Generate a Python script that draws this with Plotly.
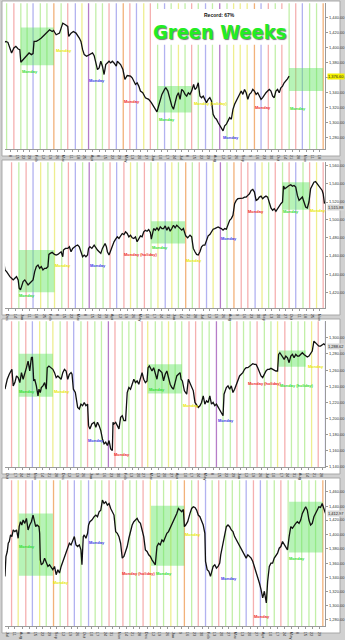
import plotly.graph_objects as go

W, H = 345, 640

# ---------------- data (time index, price in chart units) ----------------
P1_T = [10,18,24,28,35,42,48,55,60,63, 70,80,88,95,100,103,110,118,125,135,
        145,150,158,162,170,180,185,190,198,205, 208,215,222,230,240,245,250,255,262,270,
        280,285,290,295,300,305,310,315,320,325, 330,335,340,345,352,355,360,365,372,378,
        385,395,400,405,410,415,420,425,432,440, 450,458,465,470,475,480,485,490,498,502,
        508,512,515,520,525,530,535,540,545,550, 555,560,565,570,575,580,583,586,590,595,
        600,605,610,615,620,625,630,635,640,645, 650,655,660,665,670,675,680,685,690,695,
        700,705,710,715,720,725,730,735,740,745, 750,755,760,765,770,775,780,785,790,795,
        800,805,810,815,820,825,830,835,840,845, 850,855,860,865,870,875]
P1_PRICE = [320,325,322,310,290,305,310,302,300,262, 270,280,290,285,288,325,325,330,335,345,
            355,360,355,358,345,350,365,380,375,370, 340,350,355,350,335,325,300,285,280,285,
            290,282,255,240,245,265,250,225,255,260, 265,260,265,260,250,265,260,255,240,210,
            222,220,215,205,195,200,190,175,170,155, 150,140,130,120,112,130,150,165,180,185,
            175,160,145,130,120,140,160,170,150,180, 175,165,160,170,165,175,190,195,180,185,
            200,160,155,160,150,140,150,155,145,105, 95,90,80,70,65,55,70,75,85,95,
            90,120,135,145,150,160,175,165,180,170, 150,165,170,180,175,165,170,160,150,155,
            165,170,175,180,175,160,155,175,180,170, 185,190,200,205,212,220]

P2_T = [12,15,20,25,30,35,40,45,50,55, 58,62,66,70,75,80,85,90,95,100,
        105,110,115,120,125,130,135,140,145,148, 152,158,165,170,175,180,185,190,192,198,
        205,210,215,220,225,230,235,240,245,250, 255,260,265,268,272,278,285,290,295,300,
        305,310,312,318,322,325,330,335,340,345, 350,355,360,365,370,375,380,385,390,395,
        400,405,410,415,420,425,430,435,440,445, 450,455,458,462,465,470,475,480,485,490,
        495,500,505,510,515,520,525,530,535,540, 545,550,555,558,562,568,575,580,585,590,
        595,600,605,610,615,620,625,630,635,640, 645,650,655,660,665,670,675,680,685,690,
        695,700,705,710,715,720,725,730,735,740, 745,750,755,760,765,770,775,780,785,790,
        795,800,805,810,815,820,825,830,835,840, 845,850,855,858,862,868,875,880,885,890,
        895,900,905,910,915,920,925,930,935,940, 945,950,955,960,965,970,975,978,982]
P2_PRICE = [135,115,110,100,95,90,85,90,95,85, 60,55,70,80,85,75,70,75,80,85,
            110,125,130,120,125,115,120,120,125,162, 165,168,162,160,162,165,170,155,175,180,
            180,185,170,180,185,188,190,185,170,155, 160,155,160,180,185,180,190,180,175,170,
            165,180,185,195,185,170,160,175,190,200, 208,215,210,218,225,222,230,225,215,220,
            212,210,215,200,210,218,215,230,235,232, 237,228,208,230,240,235,242,235,245,240,
            240,248,235,245,232,240,250,242,250,245, 240,235,240,230,218,212,220,215,180,170,
            162,160,170,185,190,190,205,218,222,232, 238,240,242,245,242,240,235,240,238,250,
            265,270,280,315,325,330,330,332,332,335, 335,340,345,355,358,350,325,328,335,338,
            330,335,338,335,315,302,295,300,292,300, 310,315,320,368,360,365,370,372,368,370,
            365,340,325,330,335,320,305,302,320,360, 370,380,382,375,370,360,355,345,315]

P3_T = [15,18,22,28,32,36,40,45,50,55, 60,65,70,75,80,85,90,95,98,100,
        102,105,110,115,118,122,125,130,135,140, 143,148,155,160,165,170,175,180,185,190,
        195,200,205,210,215,218,222,228,232,235, 240,245,250,255,260,265,268,272,278,285,
        290,295,300,305,310,315,320,325,330,335, 340,342,345,350,355,360,365,370,375,380,
        385,390,395,400,405,410,415,420,425,430, 435,440,445,448,452,455,460,465,470,475,
        480,485,490,495,500,505,510,515,520,525, 530,535,540,545,548,552,558,562,565,570,
        575,580,585,590,595,600,605,610,615,620, 625,630,635,640,645,650,655,660,665,670,
        675,678,682,685,690,695,700,705,710,715, 720,725,730,735,740,745,750,755,760,765,
        770,775,780,785,790,795,800,805,810,815, 820,825,830,835,840,843,847,850,855,860,
        865,870,875,880,885,890,895,900,905,910, 915,920,925,930,935,940,945,950,955,960,
        965,970,975,980,985]
P3_PRICE = [235,250,265,280,290,295,245,255,275,270, 255,285,265,280,300,320,290,330,332,300,
            260,265,245,215,235,225,240,245,255,235, 300,305,300,295,285,270,275,270,265,285,
            295,290,265,280,285,280,235,225,200,180, 175,190,185,195,185,190,125,115,130,135,
            120,135,125,110,85,70,75,65,80,55, 50,135,130,135,125,115,150,155,140,140,
            225,240,235,250,265,255,260,250,265,285, 265,255,260,300,305,300,290,300,285,265,
            295,290,285,260,280,290,265,250,240,235, 255,275,280,285,265,260,230,225,220,265,
            255,245,230,195,185,180,185,195,215,190, 200,195,215,190,195,185,190,180,175,160,
            155,220,235,240,245,235,245,225,235,250, 265,275,280,285,295,300,300,305,310,312,
            310,310,300,285,275,270,280,290,295,295, 298,295,292,290,290,340,345,340,330,325,
            335,330,315,335,340,330,340,335,335,340, 345,340,335,332,335,345,350,380,375,370,
            365,365,368,372,368]

P4_T = [15,18,22,25,28,32,36,40,45,50, 55,58,62,66,70,75,80,85,90,95,
        100,105,108,112,118,120,122,125,130,135, 140,145,150,155,160,165,170,175,180,185,
        190,195,200,205,210,215,220,225,230,235, 240,245,248,252,255,260,265,268,272,278,
        285,290,295,300,305,310,315,320,325,330, 335,340,345,350,355,360,365,370,375,380,
        385,390,395,400,405,410,415,420,425,430, 435,440,445,450,455,460,465,470,475,480,
        485,490,495,500,505,510,515,520,525,530, 535,540,545,550,555,558,562,568,575,580,
        585,590,595,600,605,610,615,620,622,627, 632,637,640,645,650,655,660,665,668,672,
        678,685,690,695,700,705,710,715,720,725, 730,735,740,745,750,755,760,765,770,775,
        780,785,790,795,800,803,806,810,815,820, 825,830,835,840,845,850,855,860,865,870,
        875,880,885,890,895,900,905,910,915,920, 925,930,935,940,945,950,955,960,965,970,
        975,980,985]
P4_PRICE = [150,210,225,250,255,275,270,290,285,290, 265,300,315,305,320,310,325,290,305,315,
            335,315,300,305,300,280,200,185,190,205, 190,180,185,175,170,180,155,170,160,180,
            195,210,225,240,250,245,260,270,245,240, 245,230,185,270,275,265,280,305,315,320,
            330,335,330,345,350,380,370,375,365,370, 355,345,335,285,280,270,250,205,210,225,
            240,265,290,305,315,320,325,315,310,290, 270,230,225,215,210,200,190,185,240,250,
            245,260,255,270,280,285,295,305,320,330, 340,355,350,345,352,300,305,315,340,355,
            360,358,350,335,330,320,305,280,195,170, 165,150,160,180,185,175,180,190,215,235,
            260,300,305,300,290,285,270,260,255,240, 235,225,215,205,215,210,205,195,180,160,
            150,130,110,85,105,90,70,135,180,190, 190,205,215,220,235,240,255,245,235,230,
            270,300,295,305,310,315,310,320,340,350, 360,350,320,305,310,330,340,355,360,358,
            370,355,340]

# weekly separator lines: positions and colour codes
P1_WEEKS = [20,42,63,82,100,122,142,163,185,205,228,248,268,290,310,330,352,373,393,413,435,455,477,498,
            518,540,560,580,600,622,643,665,687,707,727,748,770,790,812,833,853,875,895,915,937,958,978]
P1_WCOL = "g r g g b g g o g r b y p g g r b o r b y r g b g y g r g b g p g y y y o b r g r g r b g g o".split()
P2_WEEKS = [35,57,79,100,123,145,165,187,207,228,250,270,290,312,333,353,375,395,415,437,457,478,500,520,
            540,562,582,603,625,645,667,687,708,730,750,772,793,813,833,855,875,895,917,937,958,978]
P2_WCOL = "r g r b y g y g r b g p g g r b r y g r g y b y g o g r b y p g o r r b y g r g r b g r y r".split()
P3_WEEKS = [35,57,78,98,120,140,160,182,203,223,245,265,287,307,328,348,370,390,410,430,447,470,490,510,
            530,550,572,592,612,633,655,675,697,717,737,757,778,800,820,840,862,882,902,922,943,963,985]
P3_WCOL = "r g r b y g y g r b g r g g p r g g g r y g g y g g r r g g p g g r g g r g g y r g g g y r b".split()
P4_WEEKS = [35,55,78,98,120,140,162,182,205,225,245,268,288,308,330,350,372,393,413,433,455,475,495,517,
            537,558,580,600,622,642,662,683,703,725,745,767,788,808,830,850,872,893,913,935,955,977]
P4_WCOL = "r y r b y g o g r b g b g g r g r g g r y g g y g o g r b g r g g g b r b g g r g g g g g o".split()

# green-week boxes: (t0, t1, low, high)
P1_BOXES = [(63,163,253,367),(477,580,110,190),(875,978,175,245)]
P2_BOXES = [(57,165,48,175),(458,560,195,262),(855,937,297,380)]
P3_BOXES = [(57,160,212,342),(447,550,222,310),(843,925,303,352)]
P4_BOXES = [(57,160,152,340),(457,558,182,363),(875,977,222,375)]

# "Monday" annotations: (t, price, text, colour code)
P1_NOTES = [(90,235,"Monday","g"),(195,298,"Monday","y"),(295,208,"Monday","b"),(400,145,"Monday","r"),
            (505,88,"Monday","g"),(640,137,"Monday (holiday)","y"),(698,35,"Monday","b"),
            (797,125,"Monday","r"),(902,123,"Monday","g")]
P2_NOTES = [(83,38,"Monday","g"),(190,128,"Monday","y"),(297,128,"Monday","b"),(428,162,"Monday (holiday)","r"),
            (485,183,"Monday","g"),(588,145,"Monday","y"),(692,209,"Monday","b"),(775,290,"Monday","r"),
            (880,290,"Monday","g"),(963,294,"Monday","y")]
P3_NOTES = [(82,228,"Monday","g"),(188,228,"Monday","y"),(290,80,"Monday","b"),(368,38,"Monday","r"),
            (475,235,"Monday","g"),(578,185,"Monday","y"),(685,140,"Monday","b"),
            (802,253,"Monday (holiday)","r"),(898,247,"Monday (holiday)","g"),(955,302,"Monday","y")]
P4_NOTES = [(82,240,"Monday","g"),(185,130,"Monday","y"),(293,253,"Monday","b"),(420,160,"Monday (holiday)","r"),
            (496,159,"Monday","g"),(585,275,"Monday","y"),(692,145,"Monday","b"),(793,28,"Monday","r"),
            (900,204,"Monday","g")]

# price axis ticks
P1_YTICKS = [396,351,306,261,216,171,126,81,36]
P1_YTEXT = ["1,440.00","1,420.00","1,400.00","1,380.00","1,360.00","1,340.00","1,320.00","1,300.00","1,280.00"]
P2_YTICKS = [430,375,320,267,212,157,102,47]
P2_YTEXT = ["1,560.00","1,540.00","1,520.00","1,500.00","1,480.00","1,460.00","1,440.00","1,420.00"]
P3_YTICKS = [390,342,292,243,195,147,98,50,2]
P3_YTEXT = ["1,300.00","1,280.00","1,260.00","1,240.00","1,220.00","1,200.00","1,180.00","1,160.00","1,140.00"]
P4_YTICKS = [405,362,320,277,235,190,147,105,62,20]
P4_YTEXT = ["1,460.00","1,440.00","1,420.00","1,400.00","1,380.00","1,360.00","1,340.00","1,320.00","1,300.00","1,280.00"]

# last-price tags: (text, background, level on the price axis)
P1_LAST = ("1,376.60", "#f4f000", 218)
P2_LAST = ("1,515.88", "#d8d8d8", 302)
P3_LAST = ("1,288.62", "#d8d8d8", 365)
P4_LAST = ("1,412.97", "#d8d8d8", 340)

P1_XTEXT = "Jan 8 15 22 29 Feb 12 19 26 Mar 11 18 25 Apr 8 15 22 29 May 13 20 27 Jun 10 17 24 Jul 8 15 22 29 Aug 12 19 26 Sep 9 16 23 30 Oct 14 21 28 Nov 11 18 25 Dec".split()
P2_XTEXT = "Dec 14 Jan 11 18 25 Feb 8 15 22 Mar 8 15 22 29 Apr 12 19 26 May 10 17 24 31 Jun 14 21 28 Jul 12 19 26 Aug 9 16 23 30 Sep 13 20 27 Oct 11 18 25 Nov 8 15".split()
P3_XTEXT = "Oct 17 24 31 Nov 14 21 28 Dec 12 19 26 Jan 9 16 23 30 Feb 13 20 27 Mar 13 20 27 Apr 10 17 24 May 8 15 22 29 Jun 12 19 26 Jul 10 17 24 31 Aug 14 21 28 Sep".split()
P4_XTEXT = "Jul 11 Aug 8 15 22 29 Sep 12 19 26 Oct 10 17 24 31 Nov 14 21 28 Dec 12 19 26 Jan 9 16 23 30 Feb 13 20 27 Mar 13 20 27 Apr 10 17 24 May 8 15 22 29 Jun".split()

TITLE = "Green Weeks"
SUBTITLE = "Record: 67%"

# ---------------- styling ----------------
LINE_COLS = {"r": "#f5b0b0", "g": "#c2efa8", "y": "#eeee90", "b": "#b2b2f0", "p": "#b67cc8", "o": "#f2b27a"}
NOTE_COLS = {"r": "#ee2828", "g": "#2edd2e", "y": "#e8e800", "b": "#3636e6"}

panels = [
    (P1_T, P1_PRICE, P1_WEEKS, P1_WCOL, P1_BOXES, P1_NOTES, P1_YTICKS, P1_YTEXT, P1_LAST, P1_XTEXT),
    (P2_T, P2_PRICE, P2_WEEKS, P2_WCOL, P2_BOXES, P2_NOTES, P2_YTICKS, P2_YTEXT, P2_LAST, P2_XTEXT),
    (P3_T, P3_PRICE, P3_WEEKS, P3_WCOL, P3_BOXES, P3_NOTES, P3_YTICKS, P3_YTEXT, P3_LAST, P3_XTEXT),
    (P4_T, P4_PRICE, P4_WEEKS, P4_WCOL, P4_BOXES, P4_NOTES, P4_YTICKS, P4_YTEXT, P4_LAST, P4_XTEXT),
]

fig = go.Figure()
shapes = []
annotations = []
layout = {}

X0, X1 = 5 / W, 328 / W
for k, (t, p, weeks, wcol, boxes, notes, yt, ytx, last, xtext) in enumerate(panels):
    assert len(t) == len(p), (k, len(t), len(p))
    assert len(weeks) == len(wcol), (k, len(weeks), len(wcol))
    n = "" if k == 0 else str(k + 1)
    xa, ya = "x" + n, "y" + n
    top_px, bot_px = 160 * k + 3.3, 160 * k + 150
    # panel card
    shapes.append(dict(type="rect", xref="paper", yref="paper", x0=2 / W, x1=343 / W,
                       y0=1 - (160 * k + 157) / H, y1=1 - (160 * k + 1) / H,
                       fillcolor="white", line=dict(color="#a8a8a8", width=1), layer="below"))
    # weekly lines
    for pos, c in zip(weeks, wcol):
        shapes.append(dict(type="line", xref=xa, yref=ya + " domain", x0=pos, x1=pos, y0=0, y1=1,
                           line=dict(color=LINE_COLS[c], width=1.3), layer="below"))
    # green boxes
    for (a, b, lo, hi) in boxes:
        shapes.append(dict(type="rect", xref=xa, yref=ya, x0=a, x1=b, y0=lo, y1=hi,
                           fillcolor="rgba(95,228,95,0.45)", line=dict(width=0), layer="below"))
    fig.add_trace(go.Scatter(x=t, y=p, mode="lines", xaxis=xa, yaxis=ya,
                             line=dict(color="#111111", width=1.3), hoverinfo="skip", showlegend=False))
    for (tx, py, txt, c) in notes:
        annotations.append(dict(x=tx, y=py, xref=xa, yref=ya, text="<b>" + txt + "</b>", showarrow=False,
                                font=dict(size=4, color=NOTE_COLS[c], family="Liberation Sans"),
                                xanchor="center", yanchor="middle"))
    annotations.append(dict(x=329.5 / W, y=last[2], xref="paper", yref=ya, text=last[0], showarrow=False,
                            font=dict(size=4, color="#222", family="Liberation Sans"), bgcolor=last[1],
                            xanchor="left", yanchor="middle", borderpad=0))
    xlab_pos = [w - 10 for w in weeks]
    layout["xaxis" + n] = dict(domain=[X0, X1], range=[15, 984], anchor=ya, showgrid=False, zeroline=False,
                               showline=True, linecolor="#9a9a9a", linewidth=1,
                               tickmode="array", tickvals=xlab_pos, ticktext=xtext[:len(weeks)],
                               ticks="outside", ticklen=2, tickcolor="#9a9a9a",
                               tickfont=dict(size=4, color="#333", family="Liberation Sans"), fixedrange=True)
    layout["yaxis" + n] = dict(domain=[1 - bot_px / H, 1 - top_px / H], range=[0, 440], anchor=xa,
                               side="right", showgrid=False, zeroline=False, showline=True,
                               linecolor="#9a9a9a", linewidth=1, tickmode="array", tickvals=yt, ticktext=ytx,
                               ticks="outside", ticklen=2, tickcolor="#9a9a9a",
                               tickfont=dict(size=4, color="#333", family="Liberation Sans"), fixedrange=True)

# title box
shapes.append(dict(type="rect", xref="paper", yref="paper", x0=157 / W, x1=286 / W,
                   y0=1 - 45 / H, y1=1 - 9 / H, fillcolor="white", line=dict(width=0), layer="above"))
annotations.append(dict(x=221 / W, y=1 - 15 / H, xref="paper", yref="paper", text="<b>" + SUBTITLE + "</b>",
                        showarrow=False, font=dict(size=5, color="#111", family="Liberation Sans"),
                        xanchor="center", yanchor="middle"))
annotations.append(dict(x=221 / W, y=1 - 32 / H, xref="paper", yref="paper", text="<b>" + TITLE + "</b>",
                        showarrow=False,
                        font=dict(size=20, color="#22ee22",
                                  family="Liberation Sans Narrow, DejaVu Sans Condensed, Liberation Sans",
                                  shadow="1px 1px 1px #777"),
                        xanchor="center", yanchor="middle"))

fig.update_layout(width=W, height=H, margin=dict(l=0, r=0, t=0, b=0), paper_bgcolor="#d0d0d0",
                  plot_bgcolor="rgba(0,0,0,0)", shapes=shapes, annotations=annotations,
                  showlegend=False, **layout)
fig.write_html("out.html", config={"displayModeBar": False})
